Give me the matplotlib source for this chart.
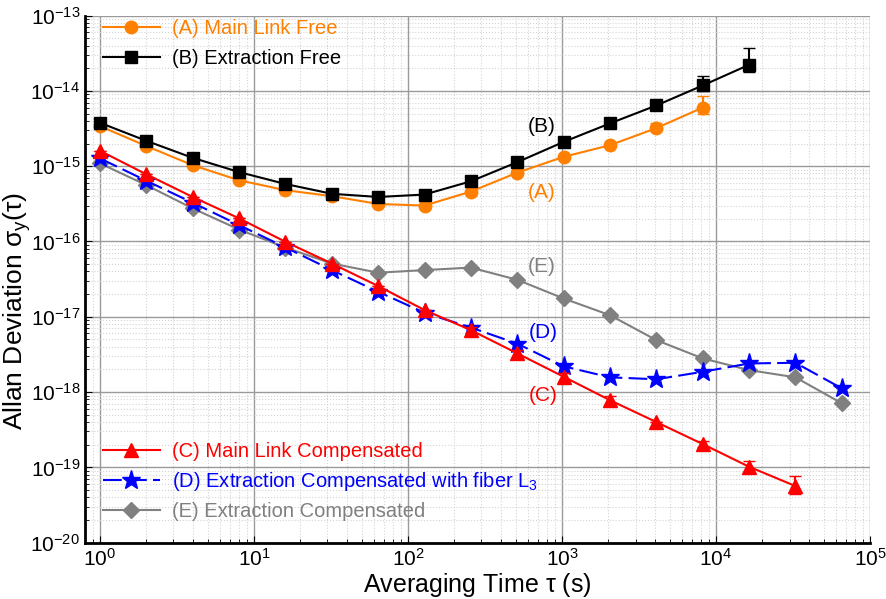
import numpy as np
import matplotlib.pyplot as plt

plt.rcParams['font.family'] = ['Liberation Sans', 'DejaVu Sans']
plt.rcParams['mathtext.fontset'] = 'custom'
plt.rcParams['mathtext.rm'] = 'Liberation Sans'
plt.rcParams['mathtext.it'] = 'Liberation Sans'

tau = 2.0 ** np.arange(17)

# (A) main link free
a_y = [3.4e-15, 1.85e-15, 1.03e-15, 6.5e-16, 4.8e-16, 4.0e-16, 3.15e-16, 3.0e-16,
       4.6e-16, 8.2e-16, 1.33e-15, 1.9e-15, 3.2e-15, 6.0e-15]
a_lo = [0, 0, 0, 0, 0, 0, 0, 0, 0, 0, 0.05e-15, 0.1e-15, 0.3e-15, 1.1e-15]
a_hi = [0, 0, 0, 0, 0, 0, 0, 0, 0, 0, 0.05e-15, 0.1e-15, 0.5e-15, 2.6e-15]

# (B) extraction free
b_y = [3.77e-15, 2.17e-15, 1.29e-15, 8.35e-16, 5.8e-16, 4.3e-16, 3.9e-16, 4.2e-16,
       6.3e-16, 1.13e-15, 2.1e-15, 3.7e-15, 6.4e-15, 1.18e-14, 2.22e-14]
b_lo = [0, 0, 0, 0, 0, 0, 0, 0, 0, 0, 0, 0.1e-15, 0.3e-15, 0.18e-14, 0.42e-14]
b_hi = [0, 0, 0, 0, 0, 0, 0, 0, 0, 0, 0, 0.1e-15, 0.4e-15, 0.4e-14, 1.44e-14]

# (C) main link compensated
c_y = [1.6e-15, 7.8e-16, 3.9e-16, 2.03e-16, 9.9e-17, 5.1e-17, 2.56e-17, 1.23e-17,
       6.65e-18, 3.27e-18, 1.6e-18, 7.8e-19, 4.0e-19, 2.04e-19, 1.02e-19, 5.65e-20]
c_lo = [0, 0, 0, 0, 0, 0, 0, 0, 0.6e-18, 0.4e-18, 0.2e-18, 0.1e-18, 0.05e-19, 0.2e-19, 0.17e-19, 1.15e-20]
c_hi = [0, 0, 0, 0, 0, 0, 0, 0, 0.6e-18, 0.4e-18, 0.2e-18, 0.1e-18, 0.05e-19, 0.2e-19, 0.21e-19, 2.05e-20]

# (D) extraction compensated with fiber L3
d_y = [1.27e-15, 6.4e-16, 3.27e-16, 1.65e-16, 8.35e-17, 4.17e-17, 2.15e-17, 1.13e-17,
       7.2e-18, 4.4e-18, 2.2e-18, 1.57e-18, 1.48e-18, 1.86e-18, 2.4e-18, 2.45e-18, 1.12e-18]

# (E) extraction compensated
e_y = [1.09e-15, 5.6e-16, 2.75e-16, 1.44e-16, 8.3e-17, 5.1e-17, 3.85e-17, 4.17e-17,
       4.5e-17, 3.1e-17, 1.75e-17, 1.05e-17, 4.9e-18, 2.8e-18, 1.96e-18, 1.57e-18, 7.1e-19]

orange = '#ff8000'
gray = '#808080'

fig = plt.figure(figsize=(8.86, 5.99), dpi=100)
ax = fig.add_axes([0.096, 0.094, 0.886, 0.880])

a_c = ax.errorbar(tau[:len(a_y)], a_y, yerr=[a_lo, a_hi], color=orange, marker='o', ms=9,
                  lw=1.5, capsize=4)
b_c = ax.errorbar(tau[:len(b_y)], b_y, yerr=[b_lo, b_hi], color='black', marker='s', ms=9,
                  lw=1.5, capsize=4)
e_line, = ax.plot(tau[:len(e_y)], e_y, color=gray, marker='D', ms=8, lw=1.5)
d_line, = ax.plot(tau[:len(d_y)], d_y, color='blue', marker='*', ms=14, lw=1.5,
                  dashes=(9, 3))
c_c = ax.errorbar(tau[:len(c_y)], c_y, yerr=[c_lo, c_hi], color='red', marker='^', ms=10,
                  lw=1.5, capsize=4)

ax.set_xscale('log')
ax.set_yscale('log')
ax.set_xlim(0.8, 1e5)
ax.set_ylim(1e-20, 1e-13)

ax.grid(True, which='major', color='#9a9a9a', lw=1.0)
ax.grid(True, which='minor', color='#d4d4d4', lw=0.8, ls=':')
ax.set_axisbelow(True)

for s in ['top', 'right']:
    ax.spines[s].set_visible(False)
for s in ['left', 'bottom']:
    ax.spines[s].set_linewidth(2)
ax.tick_params(which='both', direction='in', labelsize=15)
ax.tick_params(which='major', length=5)
ax.tick_params(which='minor', length=3)
ax.set_xticks([1, 10, 100, 1000, 1e4, 1e5])
ax.set_yticks([1e-20, 1e-19, 1e-18, 1e-17, 1e-16, 1e-15, 1e-14, 1e-13])

ax.set_xlabel(r'Averaging Time $\tau$ (s)', fontsize=18, labelpad=1)
ax.set_ylabel(r'Allan Deviation $\sigma_y(\tau)$', fontsize=19)
ax.yaxis.set_label_coords(-0.066, 0.44)

leg1 = ax.legend([a_c[0], b_c[0]], ['(A) Main Link Free', '(B) Extraction Free'],
                 loc='upper left', bbox_to_anchor=(0.0, 1.028), frameon=False,
                 fontsize=14.5, handlelength=2.8, handletextpad=0.6,
                 labelspacing=0.55, labelcolor='linecolor')
ax.add_artist(leg1)
ax.legend([c_c[0], d_line, e_line],
          ['(C) Main Link Compensated', '(D) Extraction Compensated with fiber L$_3$',
           '(E) Extraction Compensated'],
          loc='lower left', bbox_to_anchor=(0.0, 0.006), frameon=False,
          fontsize=14.5, handlelength=2.8, handletextpad=0.6, labelspacing=0.45,
          labelcolor='linecolor')

# inline labels
ax.text(740, 3.33e-15, '(B)', color='black', fontsize=15, ha='center', va='center')
ax.text(740, 4.53e-16, '(A)', color=orange, fontsize=15, ha='center', va='center')
ax.text(740, 4.61e-17, '(E)', color=gray, fontsize=15, ha='center', va='center')
ax.text(750, 6.14e-18, '(D)', color='blue', fontsize=15, ha='center', va='center')
ax.text(750, 9.1e-19, '(C)', color='red', fontsize=15, ha='center', va='center')

fig.savefig('out.png', dpi=100)
